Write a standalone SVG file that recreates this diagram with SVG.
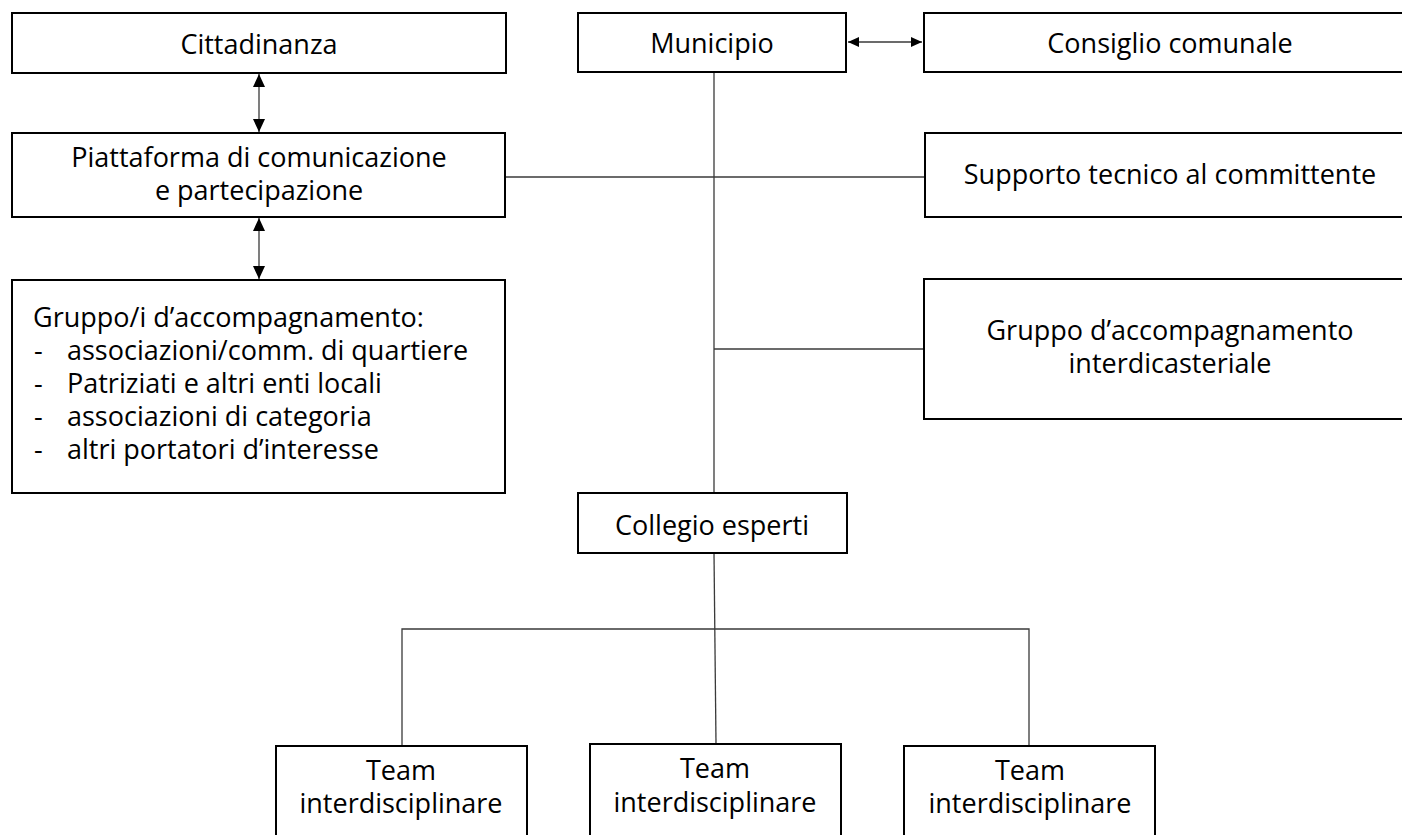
<svg xmlns="http://www.w3.org/2000/svg" width="1402" height="835" viewBox="0 0 1402 835">
<style>
.box{fill:#fff;stroke:#000;stroke-width:2}
.t{font-family:"Open Sans","Noto Sans","DejaVu Sans",sans-serif;font-size:27px;fill:#000}
.c{text-anchor:middle}
.ln{fill:none;stroke:#3a3a3a;stroke-width:1.3}
</style>
<defs>
<marker id="arr" markerUnits="userSpaceOnUse" markerWidth="13" markerHeight="12" refX="13" refY="6" orient="auto-start-reverse" viewBox="0 0 13 12">
<path d="M0,0 L13,6 L0,12 Z" fill="#000"/>
</marker>
<marker id="arrs" markerUnits="userSpaceOnUse" markerWidth="11" markerHeight="10" refX="11" refY="5" orient="auto-start-reverse" viewBox="0 0 11 10">
<path d="M0,0 L11,5 L0,10 Z" fill="#000"/>
</marker>
</defs>
<rect width="1402" height="835" fill="#fff"/>
<g id="connectors">
<line class="ln" x1="259" y1="74" x2="259" y2="132" marker-start="url(#arr)" marker-end="url(#arr)"/>
<line class="ln" x1="259" y1="218" x2="259" y2="279" marker-start="url(#arr)" marker-end="url(#arr)"/>
<line class="ln" x1="848" y1="42" x2="922" y2="42" marker-start="url(#arrs)" marker-end="url(#arrs)"/>
<line class="ln" x1="714" y1="72" x2="714" y2="493"/>
<line class="ln" x1="505" y1="177" x2="925" y2="177"/>
<line class="ln" x1="714" y1="349" x2="924" y2="349"/>
<line class="ln" x1="714" y1="553" x2="716" y2="744"/>
<polyline class="ln" points="402,746 402,629 1029,629 1029,746"/>
</g>
<g id="cittadinanza">
<rect class="box" x="12" y="13" width="494" height="60"/>
<text class="t c" x="259" y="54">Cittadinanza</text>
</g>
<g id="piattaforma">
<rect class="box" x="12" y="133" width="493" height="84"/>
<text class="t c" x="259" y="167">Piattaforma di comunicazione<tspan x="259" dy="33">e partecipazione</tspan></text>
</g>
<g id="gruppi">
<rect class="box" x="12" y="280" width="493" height="213"/>
<text class="t" x="33" y="327">Gruppo/i d’accompagnamento:<tspan x="34" dy="33">-</tspan><tspan x="67">associazioni/comm. di quartiere</tspan><tspan x="34" dy="33">-</tspan><tspan x="67">Patriziati e altri enti locali</tspan><tspan x="34" dy="33">-</tspan><tspan x="67">associazioni di categoria</tspan><tspan x="34" dy="33">-</tspan><tspan x="67">altri portatori d’interesse</tspan></text>
</g>
<g id="municipio">
<rect class="box" x="578" y="13" width="268" height="59"/>
<text class="t c" x="712" y="53">Municipio</text>
</g>
<g id="consiglio">
<rect class="box" x="924" y="13" width="500" height="59"/>
<text class="t c" x="1170" y="53">Consiglio comunale</text>
</g>
<g id="supporto">
<rect class="box" x="925" y="133" width="500" height="84"/>
<text class="t c" x="1170" y="184">Supporto tecnico al committente</text>
</g>
<g id="gruppo-interdicasteriale">
<rect class="box" x="924" y="279" width="500" height="140"/>
<text class="t c" x="1170" y="340">Gruppo d’accompagnamento<tspan x="1170" dy="33">interdicasteriale</tspan></text>
</g>
<g id="collegio">
<rect class="box" x="578" y="493" width="269" height="60"/>
<text class="t c" x="712" y="535">Collegio esperti</text>
</g>
<g id="team1">
<rect class="box" x="276" y="746" width="251" height="120"/>
<text class="t c" x="401" y="780">Team<tspan x="401" dy="33">interdisciplinare</tspan></text>
</g>
<g id="team2">
<rect class="box" x="590" y="744" width="251" height="120"/>
<text class="t c" x="715" y="778">Team<tspan x="715" dy="34">interdisciplinare</tspan></text>
</g>
<g id="team3">
<rect class="box" x="904" y="746" width="251" height="120"/>
<text class="t c" x="1030" y="780">Team<tspan x="1030" dy="33">interdisciplinare</tspan></text>
</g>
</svg>
